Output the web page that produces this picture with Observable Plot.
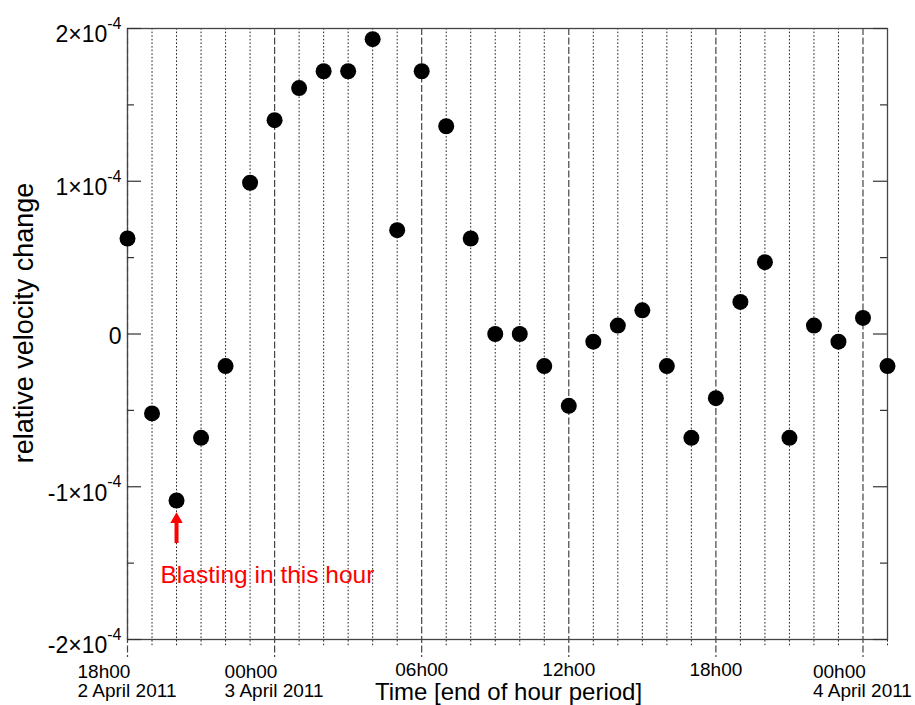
<!DOCTYPE html>
<html>
<head>
<meta charset="utf-8">
<script src="https://cdn.jsdelivr.net/npm/d3@7"></script>
<script src="https://cdn.jsdelivr.net/npm/@observablehq/plot@0.6"></script>
<style>
  body { margin: 0; background: #fff; }
  #chart svg { font-family: "Liberation Sans", Arial, sans-serif; }
</style>
</head>
<body>
<div id="chart"></div>
<script>
// ---- data ----
const startTime = new Date(Date.UTC(2011, 3, 2, 18));
const endTime = new Date(Date.UTC(2011, 3, 4, 1));
// hourly samples (end of each hour period), 18h00 2 April .. 01h00 4 April
const hours = d3.utcHour.range(startTime, d3.utcHour.offset(endTime, 1));
const velocityChange = [
  6.25e-5, -5.2e-5, -10.9e-5, -6.8e-5, -2.1e-5, 9.9e-5, 14.0e-5, 16.1e-5,
  17.2e-5, 17.2e-5, 19.3e-5, 6.8e-5, 17.2e-5, 13.6e-5, 6.25e-5, 0,
  0, -2.1e-5, -4.7e-5, -0.5e-5, 0.55e-5, 1.55e-5, -2.1e-5, -6.8e-5,
  -4.2e-5, 2.1e-5, 4.7e-5, -6.8e-5, 0.55e-5, -0.5e-5, 1.05e-5, -2.1e-5
];
const majorTicks = [
  new Date(Date.UTC(2011, 3, 2, 18)), new Date(Date.UTC(2011, 3, 3, 0)),
  new Date(Date.UTC(2011, 3, 3, 6)), new Date(Date.UTC(2011, 3, 3, 12)),
  new Date(Date.UTC(2011, 3, 3, 18)), new Date(Date.UTC(2011, 3, 4, 0))
];
const majorLabels = ["18h00\n2 April 2011", "00h00\n3 April 2011", "06h00", "12h00", "18h00", "00h00\n4 April 2011"];
const yMajor = [-2e-4, -1e-4, 0, 1e-4, 2e-4];
const yLabels = ["-2×10^-4", "-1×10^-4", "0", "1×10^-4", "2×10^-4"];
const yMinor = [-1.5e-4, -0.5e-4, 0.5e-4, 1.5e-4];
const blastIndex = 2;
const blastLabel = "Blasting in this hour";
const xTitle = "Time [end of hour period]";
const yTitle = "relative velocity change";

// ---- derived tables ----
const points = hours.map((t, i) => ({time: t, value: velocityChange[i]}));
const majorSet = new Set(majorTicks.map(d => +d));
const minorTicks = hours.filter(t => !majorSet.has(+t));
const labelOf = new Map(majorTicks.map((t, i) => [+t, majorLabels[i]]));
const yLabelOf = new Map(yMajor.map((v, i) => [v, yLabels[i]]));
const dateTicks = majorTicks.filter(t => labelOf.get(+t).includes("\n"));
const timeTicks = majorTicks.filter(t => !labelOf.get(+t).includes("\n"));
const blast = [{time: hours[blastIndex], value: velocityChange[blastIndex], label: blastLabel}];

const chart = Plot.plot({
  width: 915,
  height: 705,
  marginLeft: 127,
  marginRight: 28,
  marginTop: 28,
  marginBottom: 66,
  style: {fontFamily: "'Liberation Sans', Arial, sans-serif", color: "#000", background: "#fff"},
  x: {type: "utc", domain: [startTime, endTime], axis: null},
  y: {domain: [-2e-4, 2e-4], axis: null},
  marks: [
    // vertical grid: dotted hours, dashed 6-hourly, extending below frame as ticks
    Plot.ruleX(minorTicks, {x: d => d, stroke: "#222", strokeWidth: 1, strokeDasharray: "1.6,2", insetBottom: -8}),
    Plot.ruleX(majorTicks, {x: d => d, stroke: "#444", strokeWidth: 1.2, strokeDasharray: "7,2.5", insetBottom: -18}),
    Plot.frame({stroke: "#444", strokeWidth: 1.3}),
    // inward y ticks, left and right
    Plot.ruleY(yMajor, {y: d => d, x1: () => startTime, x2: () => startTime, insetRight: -14, stroke: "#333", strokeWidth: 1.2}),
    Plot.ruleY(yMinor, {y: d => d, x1: () => startTime, x2: () => startTime, insetRight: -7, stroke: "#333", strokeWidth: 1.2}),
    Plot.ruleY(yMajor, {y: d => d, x1: () => endTime, x2: () => endTime, insetLeft: -14, stroke: "#333", strokeWidth: 1.2}),
    Plot.ruleY(yMinor, {y: d => d, x1: () => endTime, x2: () => endTime, insetLeft: -7, stroke: "#333", strokeWidth: 1.2}),
    // y tick labels
    Plot.axisY({ticks: yMajor, tickSize: 0, tickPadding: 6, fontSize: 23, dy: 2.5, label: null, tickFormat: d => yLabelOf.get(d)}),
    // x tick labels
    Plot.axisX({ticks: timeTicks, tickSize: 0, tickPadding: 22.5, fontSize: 19, label: null, tickFormat: d => labelOf.get(+d)}),
    Plot.axisX({ticks: dateTicks, tickSize: 0, tickPadding: 25, fontSize: 19, label: null, textAnchor: "start", dx: -50, lineHeight: 1, tickFormat: d => labelOf.get(+d)}),
    // data
    Plot.dot(points, {x: "time", y: "value", r: 8, fill: "#000", stroke: "none"}),
    // annotation
    Plot.ruleX(blast, {x: "time", y1: "value", y2: "value", insetTop: 20, insetBottom: -43, stroke: "#ff0000", strokeWidth: 4}),
    Plot.dot(blast, {x: "time", y: "value", symbol: "triangle", r: 4.6, fill: "#ff0000", stroke: "none", dy: 19}),
    Plot.text(blast, {x: "time", y: "value", text: "label", textAnchor: "start", lineAnchor: "bottom", dx: -16, dy: 83, fill: "#ff0000", fontSize: 24.5}),
    // titles
    Plot.text([xTitle], {text: d => d, frameAnchor: "bottom", textAnchor: "middle", lineAnchor: "bottom", dy: 60.5, dx: 1, fontSize: 24, fill: "#000"}),
    Plot.text([yTitle], {text: d => d, frameAnchor: "left", textAnchor: "middle", rotate: -90, lineAnchor: "bottom", dx: -95, dy: -11, fontSize: 27, fill: "#000"})
  ]
});

// superscript exponents in y tick labels
const NS = "http://www.w3.org/2000/svg";
chart.querySelectorAll('[aria-label="y-axis tick label"] text').forEach(t => {
  const s = t.textContent;
  if (!s.includes("^")) return;
  const [base, exp] = s.split("^");
  t.textContent = "";
  const b = document.createElementNS(NS, "tspan");
  b.setAttribute("dy", "4");
  b.textContent = base;
  const e = document.createElementNS(NS, "tspan");
  e.setAttribute("dy", "-13.5");
  e.setAttribute("font-size", "16");
  e.textContent = exp;
  t.appendChild(b);
  t.appendChild(e);
});

document.getElementById("chart").appendChild(chart);
</script>
</body>
</html>
